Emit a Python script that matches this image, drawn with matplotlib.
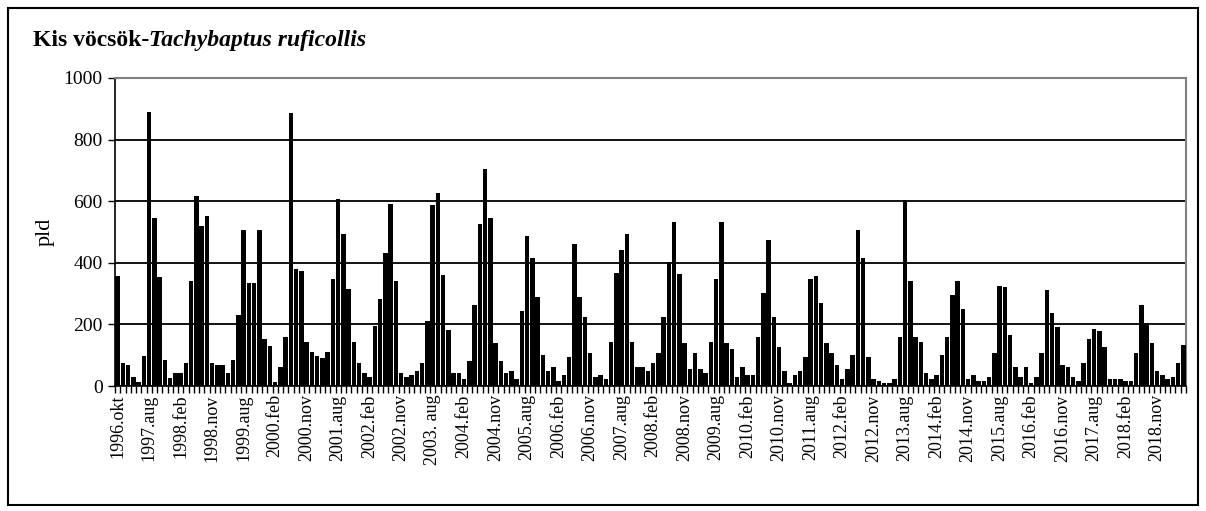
import matplotlib.pyplot as plt
import numpy as np
from matplotlib.patches import Rectangle

plt.rcParams['font.family'] = ['Liberation Serif', 'DejaVu Serif']

# monthly counts (Aug-Apr survey months), starting 1996 Oct
values = [
    358, 74, 67, 28, 14, 99,
    891, 547, 353, 86, 27, 41,
    41, 74, 340, 618, 521, 553,
    74, 67, 67, 41, 86, 229,
    508, 334, 334, 508, 152, 131,
    14, 61, 158, 885, 379, 373,
    144, 112, 99, 92, 112, 347,
    607, 495, 314, 144, 74, 41,
    28, 196, 282, 431, 592, 340,
    41, 28, 35, 48, 74, 210,
    587, 626, 360, 183, 41, 41,
    22, 80, 262, 527, 704, 547,
    139, 80, 41, 48, 22, 243,
    488, 417, 288, 100, 48, 61,
    15, 35, 93, 462, 288, 223,
    106, 28, 35, 22, 144, 366,
    443, 495, 144, 61, 61, 48,
    74, 106, 223, 404, 534, 365,
    139, 54, 106, 54, 41, 144,
    347, 534, 139, 119, 28, 61,
    35, 35, 158, 301, 475, 223,
    126, 48, 9, 35, 48, 93,
    347, 358, 269, 139, 106, 67,
    22, 54, 100, 508, 417, 93,
    22, 15, 9, 9, 22, 158,
    605, 340, 158, 144, 41, 22,
    35, 100, 158, 295, 340, 249,
    22, 35, 15, 15, 28, 106,
    326, 320, 164, 61, 28, 61,
    9, 28, 106, 313, 236, 191,
    67, 61, 28, 15, 74, 152,
    184, 178, 126, 22, 22, 22,
    15, 15, 106, 262, 204, 139,
    48, 35, 22, 28, 74, 132,
]

tick_labels = [
    "1996.okt", "1997.aug", "1998.feb", "1998.nov", "1999.aug", "2000.feb",
    "2000.nov", "2001.aug", "2002.feb", "2002.nov", "2003. aug", "2004.feb",
    "2004.nov", "2005.aug", "2006.feb", "2006.nov", "2007.aug", "2008.feb",
    "2008.nov", "2009.aug", "2010.feb", "2010.nov", "2011.aug", "2012.feb",
    "2012.nov", "2013.aug", "2014.feb", "2014.nov", "2015.aug", "2016.feb",
    "2016.nov", "2017.aug", "2018.feb", "2018.nov",
]
label_step = 6

fig = plt.figure(figsize=(12.06, 5.11), dpi=100)
ax = fig.add_axes([0.0954, 0.2446, 0.888, 0.6028])

x = np.arange(len(values))
ax.bar(x, values, width=0.86, color='black', zorder=3)

ax.set_xlim(-0.5, len(values) - 0.5)
ax.set_ylim(0, 1000)
ax.set_yticks(range(0, 1001, 200))
ax.yaxis.grid(True, color='black', linewidth=1.3, zorder=0)
ax.set_axisbelow(True)

ax.set_xticks(x[::label_step])
ax.set_xticklabels(tick_labels, rotation=90, fontsize=13)
ax.set_xticks(np.arange(-0.5, len(values), 1), minor=True)
ax.tick_params(axis='x', which='major', length=0, pad=6)
ax.tick_params(axis='x', which='minor', length=5, width=1, direction='out')
ax.tick_params(axis='y', length=5, width=1, direction='out', labelsize=14, pad=4)

for s in ['top', 'right']:
    ax.spines[s].set_color('#808080')
    ax.spines[s].set_linewidth(1.5)
for s in ['left', 'bottom']:
    ax.spines[s].set_color('black')
    ax.spines[s].set_linewidth(1.2)

ax.set_ylabel("pld", fontsize=16, labelpad=6)

t1 = fig.text(33 / 1206, 1 - 46 / 511, "Kis vöcsök-", fontsize=17,
              fontweight='bold', va='baseline', ha='left')
ax.annotate("Tachybaptus ruficollis", xy=(1, 0), xycoords=t1,
            va='bottom', ha='left', fontsize=17, fontweight='bold',
            fontstyle='italic', annotation_clip=False)

fig.patches.append(Rectangle((8 / 1206, 6 / 511), 1190 / 1206, 497 / 511,
                             transform=fig.transFigure, fill=False,
                             edgecolor='black', linewidth=1.5))

fig.savefig("out.png", dpi=100)
